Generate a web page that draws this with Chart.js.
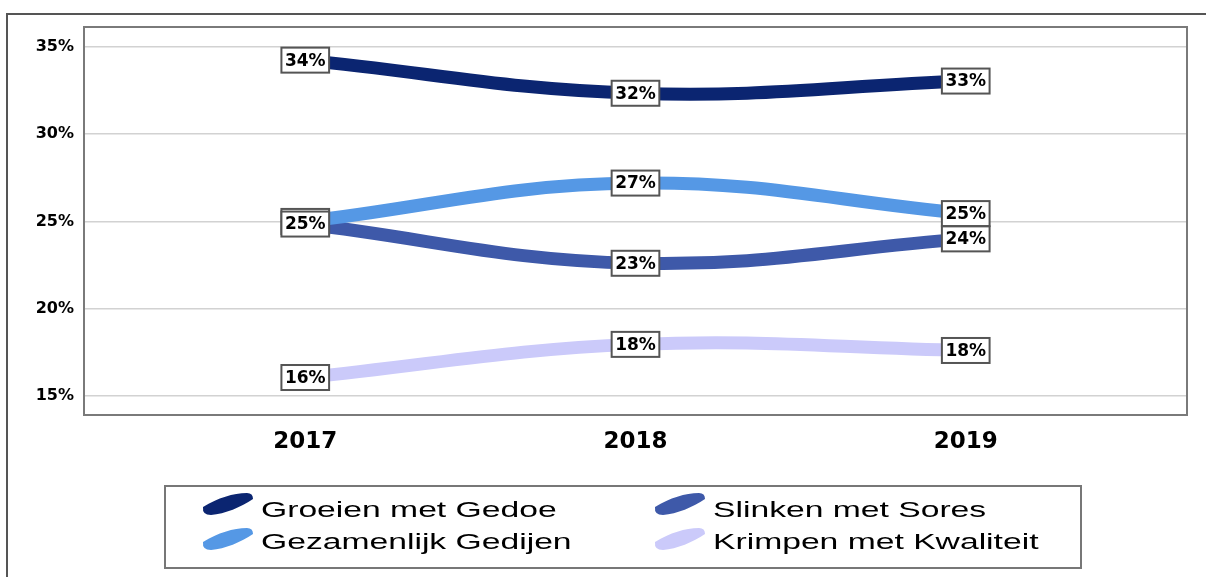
<!DOCTYPE html>
<html>
<head>
<meta charset="utf-8">
<script src="https://cdn.jsdelivr.net/npm/chart.js@4"></script>
<style>
  html, body { margin: 0; padding: 0; background: #fff; }
  #wrap { width: 1206px; height: 577px; position: relative; }
</style>
</head>
<body>
<div id="wrap"><canvas id="chart"></canvas></div>
<script>
// ====== Data ======
const years = [2017, 2018, 2019];
const seriesNames = ['Groeien met Gedoe', 'Gezamenlijk Gedijen', 'Slinken met Sores', 'Krimpen met Kwaliteit'];
const groeien = [34.25, 32.35, 33.05];
const gezamenlijk = [25.0, 27.2, 25.45];
const slinken = [24.85, 22.6, 24.0];
const krimpen = [16.05, 17.95, 17.6];
const yTicks = [15, 20, 25, 30, 35];
const colors = ['#0b2571', '#5598e5', '#3e59a9', '#cbcafa'];

const allSeries = [groeien, gezamenlijk, slinken, krimpen];

// ====== Plugins ======
const frame = {
    id: 'frame',
    beforeDraw(chart) {
        const { ctx } = chart;
        ctx.save();
        ctx.fillStyle = '#fff';
        ctx.fillRect(0, 0, chart.width, chart.height);
        ctx.strokeStyle = '#555';
        ctx.lineWidth = 2;
        ctx.strokeRect(7, 14, 1400, 800);
        ctx.restore();
    },
    afterDraw(chart) {
        const { ctx, chartArea: a } = chart;
        ctx.save();
        ctx.strokeStyle = '#7a7a7a';
        ctx.lineWidth = 2;
        ctx.strokeRect(a.left, a.top, a.right - a.left, a.bottom - a.top);
        ctx.restore();
    }
};

const valueLabels = {
    id: 'valueLabels',
    afterDatasetsDraw(chart) {
        const { ctx } = chart;
        ctx.save();
        ctx.font = 'bold 17px "DejaVu Sans"';
        ctx.textAlign = 'center';
        ctx.textBaseline = 'middle';
        chart.data.datasets.forEach((ds, i) => {
            chart.getDatasetMeta(i).data.forEach((pt, j) => {
                const txt = Math.round(ds.data[j].y) + '%';
                const w = ctx.measureText(txt).width + 7;
                const h = 25;
                ctx.fillStyle = '#fff';
                ctx.fillRect(pt.x - w / 2, pt.y - h / 2, w, h);
                ctx.strokeStyle = '#555';
                ctx.lineWidth = 2;
                ctx.strokeRect(pt.x - w / 2, pt.y - h / 2, w, h);
                ctx.fillStyle = '#000';
                ctx.fillText(txt, pt.x, pt.y + 1);
            });
        });
        ctx.restore();
    }
};

function drawSwoosh(ctx, x, y, color) {
    ctx.beginPath();
    ctx.moveTo(x, y + 15);
    ctx.bezierCurveTo(x + 15, y + 6, x + 30, y + 1, x + 44, y + 1);
    ctx.quadraticCurveTo(x + 50, y + 1, x + 50, y + 7);
    ctx.bezierCurveTo(x + 38, y + 15, x + 22, y + 22, x + 8, y + 23);
    ctx.quadraticCurveTo(x - 1, y + 23, x, y + 15);
    ctx.closePath();
    ctx.fillStyle = color;
    ctx.fill();
}

const customLegend = {
    id: 'customLegend',
    afterDraw(chart) {
        const { ctx } = chart;
        ctx.save();
        ctx.strokeStyle = '#777';
        ctx.lineWidth = 2;
        ctx.strokeRect(165, 486, 916, 82);
        const cols = [{ ix: 203, tx: 261 }, { ix: 655, tx: 713 }];
        const rows = [{ iy: 492, ty: 517 }, { iy: 527, ty: 549 }];
        ctx.font = '22px "Liberation Sans"';
        ctx.textBaseline = 'alphabetic';
        ctx.textAlign = 'left';
        chart.data.datasets.forEach((ds, i) => {
            const c = cols[Math.floor(i / 2)];
            const r = rows[i % 2];
            drawSwoosh(ctx, c.ix, r.iy, ds.borderColor);
            ctx.save();
            ctx.translate(c.tx, r.ty);
            ctx.scale(1.53, 1);
            ctx.fillStyle = '#000';
            ctx.fillText(ds.label, 0, 0);
            ctx.restore();
        });
        ctx.restore();
    }
};

// ====== Chart ======
const datasets = allSeries.map((vals, i) => ({
    label: seriesNames[i],
    data: years.map((yr, j) => ({ x: yr, y: vals[j] })),
    borderColor: colors[i],
    backgroundColor: colors[i],
    borderWidth: 13,
    borderCapStyle: 'butt',
    tension: 0.4,
    pointRadius: 0,
    fill: false
}));

new Chart(document.getElementById('chart'), {
    type: 'line',
    data: { datasets },
    options: {
        responsive: true,
        maintainAspectRatio: false,
        animation: false,
        layout: { padding: { left: 0, top: 27, right: 19, bottom: 0 } },
        plugins: {
            legend: { display: false },
            tooltip: { enabled: false }
        },
        scales: {
            x: {
                type: 'linear',
                min: 2016.33,
                max: 2019.67,
                afterBuildTicks: (scale) => { scale.ticks = years.map(v => ({ value: v })); },
                afterFit: (scale) => { scale.height = 162; },
                grid: { display: false, drawTicks: false },
                border: { display: false },
                ticks: {
                    padding: 13,
                    color: '#000',
                    font: { family: 'DejaVu Sans', weight: 'bold', size: 23 },
                    callback: (v) => String(v)
                }
            },
            y: {
                min: 13.9,
                max: 36.15,
                afterBuildTicks: (scale) => { scale.ticks = yTicks.map(v => ({ value: v })); },
                afterFit: (scale) => { scale.width = 84; },
                grid: { color: '#d2d2d2', lineWidth: 1.5, drawTicks: false },
                border: { display: false },
                ticks: {
                    padding: 10,
                    color: '#000',
                    font: { family: 'DejaVu Sans', weight: 'bold', size: 16 },
                    callback: (v) => v + '%'
                }
            }
        }
    },
    plugins: [frame, valueLabels, customLegend]
});
</script>
</body>
</html>
